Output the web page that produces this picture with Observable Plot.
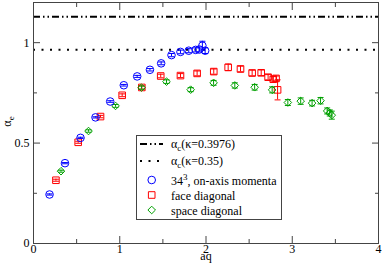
<!DOCTYPE html>
<html><head><meta charset="utf-8">
<script src="https://cdn.jsdelivr.net/npm/d3@7"></script>
<script src="https://cdn.jsdelivr.net/npm/@observablehq/plot@0.6"></script>
<style>
body{margin:0;background:#fff}
#chart{position:relative;width:382px;height:267px}
</style>
</head><body><div id="chart"></div>
<script>
// on-axis momenta (34^3)
const onAxisQ   = [0.186,0.365,0.545,0.719,0.889,1.047,1.202,1.350,1.480,1.600,1.704,1.800,1.880,1.922,1.958,1.990];
const onAxisA   = [0.244,0.400,0.526,0.628,0.707,0.788,0.832,0.865,0.897,0.938,0.954,0.960,0.964,0.966,0.985,0.960];
const onAxisErr = [0.003,0.003,0.003,0.003,0.004,0.004,0.005,0.006,0.007,0.008,0.009,0.010,0.010,0.012,0.022,0.014];
// face diagonal
const faceQ   = [0.260,0.518,0.777,1.028,1.256,1.475,1.704,1.897,2.090,2.257,2.400,2.535,2.640,2.720,2.780,2.812,2.830];
const faceA   = [0.315,0.504,0.632,0.738,0.777,0.834,0.836,0.847,0.856,0.877,0.869,0.849,0.850,0.828,0.818,0.822,0.765];
const faceErr = [0.005,0.005,0.006,0.007,0.008,0.009,0.010,0.012,0.013,0.016,0.014,0.014,0.014,0.013,0.013,0.012,0.050];
// space diagonal
const spaceQ   = [0.319,0.638,0.951,1.252,1.542,1.822,2.088,2.334,2.564,2.767,2.949,3.098,3.230,3.328,3.405,3.435,3.458];
const spaceA   = [0.360,0.560,0.685,0.776,0.806,0.766,0.800,0.787,0.778,0.765,0.702,0.709,0.699,0.711,0.660,0.650,0.639];
const spaceErr = [0.005,0.006,0.007,0.008,0.009,0.010,0.012,0.013,0.014,0.015,0.015,0.016,0.014,0.016,0.015,0.015,0.020];
// reference lines alpha_c(kappa)
const kappaLabels = ["0.3976","0.35"];
const kappaAlpha  = [1.129,0.965];
// series names
const seriesNames = ["on-axis momenta","face diagonal","space diagonal"];
// ticks
const xMajor = [0,1,2,3,4];
const xMinor = [0.5,1.5,2.5,3.5];
const yMajor = [0,0.5,1];
const yMinor = [0.25,0.75];

const rows = (q,a,e) => q.map((x,i) => ({q:x, a:a[i], e:e[i]}));
const onAxis = rows(onAxisQ,onAxisA,onAxisErr);
const face = rows(faceQ,faceA,faceErr);
const space = rows(spaceQ,spaceA,spaceErr);

const hline = {draw(ctx,size){const r=Math.sqrt(size/Math.PI); ctx.moveTo(-r,0); ctx.lineTo(r,0);}};
const square = {draw(ctx,size){const r=Math.sqrt(size/Math.PI); ctx.rect(-r,-r,2*r,2*r);}};
const diamond = {draw(ctx,size){const r=Math.sqrt(size/Math.PI); ctx.moveTo(0,-r); ctx.lineTo(r,0); ctx.lineTo(0,r); ctx.lineTo(-r,0); ctx.closePath();}};

const BLUE="#0000ff", RED="#ff0000", GREEN="#00a000", FRAME="#444";
const FONT = "'Liberation Serif','DejaVu Serif',serif";

function series(D, color, symbol, r) {
  return [
    Plot.ruleX(D, {x:"q", y1:d=>d.a-d.e, y2:d=>d.a+d.e, stroke:color, strokeWidth:1}),
    Plot.dot(D, {x:"q", y:d=>d.a+d.e, symbol:hline, r:3, stroke:color, fill:"none", strokeWidth:1}),
    Plot.dot(D, {x:"q", y:d=>d.a-d.e, symbol:hline, r:3, stroke:color, fill:"none", strokeWidth:1}),
    Plot.dot(D, {x:"q", y:"a", symbol, r, stroke:color, fill:"none", strokeWidth:1})
  ];
}

const DASHDOT = "7,3,1.5,3,1.5,3";
const DOTTED = "2,6.5";

const plot = Plot.plot({
  width:382, height:267,
  marginLeft:33, marginRight:4, marginTop:2, marginBottom:24,
  x:{domain:[0,4]}, y:{domain:[0,1.2]},
  style:{fontFamily:FONT, fontSize:"12px", background:"white", color:"black"},
  marks:[
    Plot.ruleY([kappaAlpha[0]], {stroke:"black", strokeWidth:2, strokeDasharray:DASHDOT}),
    Plot.ruleY([kappaAlpha[1]], {stroke:"black", strokeWidth:2, strokeDasharray:DOTTED}),
    ...series(face, RED, square, 3.3),
    ...series(space, GREEN, diamond, 3.8),
    ...series(onAxis, BLUE, "circle", 3.8),
    Plot.frame({stroke:FRAME}),
    Plot.axisX(xMajor, {anchor:"bottom", tickSize:-7, tickFormat:()=>"", label:null, stroke:FRAME}),
    Plot.axisX(xMinor, {anchor:"bottom", tickSize:-4, tickFormat:()=>"", label:null, stroke:FRAME}),
    Plot.axisX(xMajor, {anchor:"top", tickSize:-7, tickFormat:()=>"", label:null, stroke:FRAME}),
    Plot.axisX(xMinor, {anchor:"top", tickSize:-4, tickFormat:()=>"", label:null, stroke:FRAME}),
    Plot.axisY(yMajor, {anchor:"left", tickSize:-7, tickFormat:()=>"", label:null, stroke:FRAME}),
    Plot.axisY(yMinor, {anchor:"left", tickSize:-4, tickFormat:()=>"", label:null, stroke:FRAME}),
    Plot.axisY(yMajor, {anchor:"right", tickSize:-7, tickFormat:()=>"", label:null, stroke:FRAME}),
    Plot.axisY(yMinor, {anchor:"right", tickSize:-4, tickFormat:()=>"", label:null, stroke:FRAME}),
    Plot.axisX(xMajor, {anchor:"bottom", tickSize:0, tickPadding:1, tickFormat:d=>String(d), label:null}),
    Plot.axisY(yMajor, {anchor:"left", tickSize:0, tickPadding:4, tickFormat:d=>String(d), label:null}),
    Plot.text(["aq"], {frameAnchor:"bottom", dy:16.5, lineAnchor:"bottom", text:d=>d})
  ]
});
document.getElementById("chart").appendChild(plot);

// y-axis label and legend
const svg = d3.select(plot);
const yl = svg.append("text").attr("transform","translate(10.5,121.5) rotate(-90)")
  .attr("text-anchor","middle").attr("font-family",FONT).attr("font-size",12).attr("fill","black");
yl.append("tspan").text("α");
yl.append("tspan").attr("dy",3).attr("font-size",9).text("e");

const lg = svg.append("g").attr("font-family",FONT).attr("font-size",12)
  .attr("text-anchor","start").attr("fill","black");
lg.append("rect").attr("x",136.5).attr("y",135.5).attr("width",145).attr("height",84)
  .attr("fill","white").attr("stroke",FRAME).attr("stroke-width",1);
const tx = 171;
function refRow(y, dash, label){
  lg.append("line").attr("x1",140).attr("x2",163).attr("y1",y).attr("y2",y)
    .attr("stroke","black").attr("stroke-width",2).attr("stroke-dasharray",dash);
  const t = lg.append("text").attr("x",tx).attr("y",y+4).attr("text-anchor","start");
  t.append("tspan").text("α");
  t.append("tspan").attr("dy",3).attr("font-size",9).text("c");
  t.append("tspan").attr("dy",-3).text("(κ=" + label + ")");
}
refRow(144, DASHDOT, kappaLabels[0]);
refRow(161, DOTTED, kappaLabels[1]);
const sym = (s, r) => d3.symbol().type(s).size(Math.PI*r*r)();
function serRow(y, color, s, r, build){
  lg.append("path").attr("transform",`translate(151.7,${y})`).attr("d",sym(s,r))
    .attr("fill","none").attr("stroke",color);
  const t = lg.append("text").attr("x",tx).attr("y",y+4.5).attr("text-anchor","start");
  build(t);
}
serRow(180, BLUE, d3.symbolCircle, 3.8, t => {
  t.append("tspan").text("34");
  t.append("tspan").attr("dy",-5).attr("font-size",9).text("3");
  t.append("tspan").attr("dy",5).text(", " + seriesNames[0]);
});
serRow(195, RED, square, 3.3, t => t.text(seriesNames[1]));
serRow(210, GREEN, diamond, 3.8, t => t.text(seriesNames[2]));
</script>
</body></html>
